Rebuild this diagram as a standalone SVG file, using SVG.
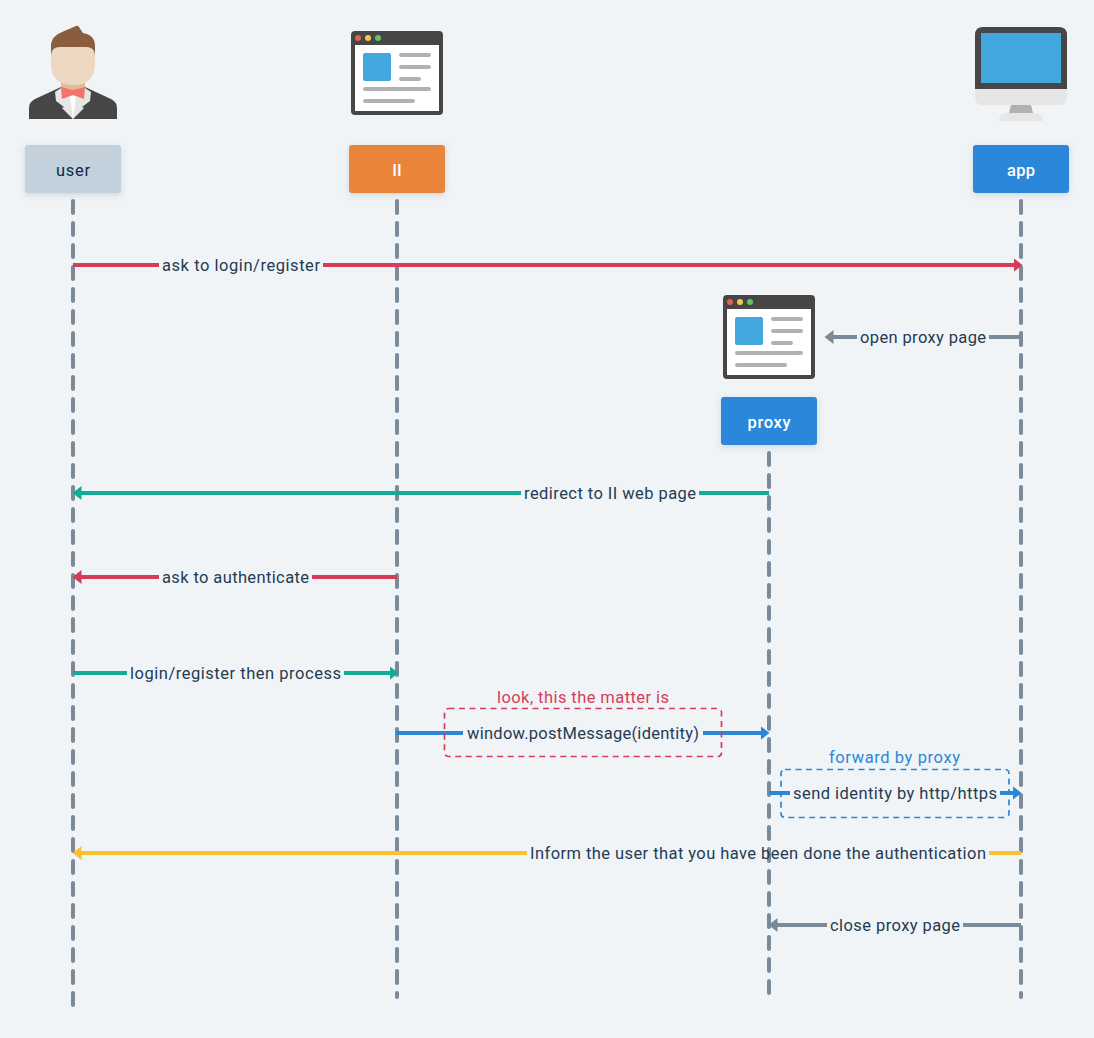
<svg xmlns="http://www.w3.org/2000/svg" width="1094" height="1038" viewBox="0 0 1094 1038">
<style>
text{font-family:"Roboto","Noto Sans","Liberation Sans",sans-serif;font-size:16.5px;font-weight:400}
.lbl{fill:#243b53}
.nt{text-anchor:middle;fill:#fff;font-weight:500}
.life{fill:none;stroke:#7a8a99;stroke-width:4;stroke-linecap:round;stroke-dasharray:12 10}
.msg{fill:none;stroke-width:4}
.red{stroke:#d63c58}.teal{stroke:#14ab96}.blue{stroke:#2a87d9}.yel{stroke:#fbc02d}.gray{stroke:#7a8a99}
.box{fill:none;stroke-width:1.700;stroke-dasharray:6 4.500}
.dk{fill:#464646}.lg{fill:#b1b1b1}.sc{fill:#41a7de}
</style>
<defs>
<filter id="sh" x="-20%" y="-30%" width="140%" height="170%"><feDropShadow dx="0" dy="2" stdDeviation="3" flood-color="#52606d" flood-opacity="0.2"/></filter>
<marker id="mred" markerUnits="userSpaceOnUse" markerWidth="12" markerHeight="16" viewBox="0 -8 12 16" refX="0.500" refY="0" orient="auto"><path d="M0-7 9 0 0 7z" fill="#d63c58"/></marker>
<marker id="mteal" markerUnits="userSpaceOnUse" markerWidth="12" markerHeight="16" viewBox="0 -8 12 16" refX="0.500" refY="0" orient="auto"><path d="M0-7 9 0 0 7z" fill="#14ab96"/></marker>
<marker id="mblue" markerUnits="userSpaceOnUse" markerWidth="12" markerHeight="16" viewBox="0 -8 12 16" refX="0.500" refY="0" orient="auto"><path d="M0-7 9 0 0 7z" fill="#2a87d9"/></marker>
<marker id="myel" markerUnits="userSpaceOnUse" markerWidth="12" markerHeight="16" viewBox="0 -8 12 16" refX="0.500" refY="0" orient="auto"><path d="M0-7 9 0 0 7z" fill="#fbc02d"/></marker>
<marker id="mgray" markerUnits="userSpaceOnUse" markerWidth="12" markerHeight="16" viewBox="0 -8 12 16" refX="0.500" refY="0" orient="auto"><path d="M0-7 9 0 0 7z" fill="#7a8a99"/></marker>
<g id="browser">
<rect x="351" y="31" width="92" height="84" rx="4" class="dk"/>
<rect x="355" y="45" width="84" height="66" fill="#fff"/>
<circle cx="358" cy="38" r="3" fill="#ea5f52"/><circle cx="368" cy="38" r="3" fill="#f2cb46"/><circle cx="378" cy="38" r="3" fill="#63c466"/>
<rect x="363" y="53" width="28" height="28" rx="2" class="sc"/>
<rect x="399" y="53" width="32" height="4" rx="2" class="lg"/><rect x="399" y="65" width="32" height="4" rx="2" class="lg"/><rect x="399" y="77" width="22" height="4" rx="2" class="lg"/>
<rect x="363" y="87" width="68" height="4" rx="2" class="lg"/><rect x="363" y="99" width="52" height="4" rx="2" class="lg"/>
</g>
</defs>
<rect width="1094" height="1038" fill="#f0f4f7"/>
<g id="lifelines">
<path class="life" d="M73 201V1005"/>
<path class="life" d="M397 201V997"/>
<path class="life" d="M769 453V993"/>
<path class="life" d="M1021 201V997"/>
</g>
<g id="node-user">
<path d="M61 78H85V92H61z" fill="#e0bd96"/>
<path d="M29 119V108Q29 102 35 99L61 87 73 119 85 87 111 99Q117 102 117 108V119z" class="dk"/>
<path d="M61 88 55 92 56 101 64 107 62 108 73 119 84 108 82 107 90 101 91 92 85 88 73 96z" fill="#e6e6e6"/>
<path d="M70 96H76L73 119z" fill="#fff"/>
<path d="M61 87 73 90 85 87 84 99 73 95 62 99z" fill="#f4736a"/>
<path d="M51 55V44Q52 36 62 32L76 26Q78 25 79 27L83 33Q95 35 95 46V56L73 60z" fill="#8a5e3c"/>
<path d="M51 56Q51 47 60 47H86Q95 47 95 56V63Q95 85 73 85 51 85 51 63z" fill="#ecd8c2"/>
<rect x="25" y="145" width="96" height="48" rx="3" fill="#c3d1dc" filter="url(#sh)"/>
<text x="73" y="176" text-anchor="middle" fill="#102a43" textLength="34" lengthAdjust="spacing">user</text>
</g>
<g id="node-ii">
<use href="#browser"/>
<rect x="349" y="145" width="96" height="48" rx="3" fill="#e98438" filter="url(#sh)"/>
<text x="397" y="176" class="nt">II</text>
</g>
<g id="node-proxy">
<use href="#browser" x="372" y="264"/>
<rect x="721" y="397" width="96" height="48" rx="3" fill="#2a87d9" filter="url(#sh)"/>
<text x="769" y="428" class="nt" textLength="43" lengthAdjust="spacing">proxy</text>
</g>
<g id="node-app">
<path d="M975 89V35Q975 27 983 27H1059Q1067 27 1067 35V89z" class="dk"/>
<path d="M975 89H1067V97Q1067 105 1059 105H983Q975 105 975 97z" fill="#e6e6e6"/>
<rect x="981" y="33" width="80" height="50" class="sc"/>
<path d="M1011 105H1031L1033 113H1009z" class="lg"/>
<path d="M999 121Q999 113 1007 113H1035Q1043 113 1043 121z" fill="#e6e6e6"/>
<rect x="973" y="145" width="96" height="48" rx="3" fill="#2a87d9" filter="url(#sh)"/>
<text x="1021" y="176" class="nt" textLength="28" lengthAdjust="spacing">app</text>
</g>
<g id="connectors">
<path class="msg red" d="M73 265H159"/><path class="msg red" d="M323 265H1014" marker-end="url(#mred)"/>
<path class="msg gray" d="M1021 337H989"/><path class="msg gray" d="M857 337H833" marker-end="url(#mgray)"/>
<path class="msg teal" d="M769 493H699"/><path class="msg teal" d="M521 493H81" marker-end="url(#mteal)"/>
<path class="msg red" d="M397 577H312"/><path class="msg red" d="M159 577H81" marker-end="url(#mred)"/>
<path class="msg teal" d="M73 673H127"/><path class="msg teal" d="M344 673H390" marker-end="url(#mteal)"/>
<path class="msg blue" d="M396 733H463"/><path class="msg blue" d="M703 733H761" marker-end="url(#mblue)"/>
<path class="msg blue" d="M769 793H790"/><path class="msg blue" d="M1000 793H1013" marker-end="url(#mblue)"/>
<path class="msg yel" d="M1021 853H989"/><path class="msg yel" d="M527 853H81" marker-end="url(#myel)"/>
<path class="msg gray" d="M1021 925H963"/><path class="msg gray" d="M827 925H777" marker-end="url(#mgray)"/>
</g>
<g id="notes">
<rect class="box red" x="444.500" y="708.500" width="277" height="48" rx="4"/>
<rect class="box blue" x="781" y="769.500" width="228" height="48" rx="4"/>
<text x="497" y="703" fill="#d63c58" textLength="172" lengthAdjust="spacing">look, this the matter is</text>
<text x="829" y="763" fill="#2a87d9" textLength="131" lengthAdjust="spacing">forward by proxy</text>
</g>
<g id="labels">
<text class="lbl" x="162" y="270.500" textLength="158" lengthAdjust="spacing">ask to login/register</text>
<text class="lbl" x="860" y="342.500" textLength="126" lengthAdjust="spacing">open proxy page</text>
<text class="lbl" x="524" y="498.500" textLength="172" lengthAdjust="spacing">redirect to II web page</text>
<text class="lbl" x="162" y="582.500" textLength="147" lengthAdjust="spacing">ask to authenticate</text>
<text class="lbl" x="130" y="678.500" textLength="211" lengthAdjust="spacing">login/register then process</text>
<text class="lbl" x="467" y="738.500" textLength="232" lengthAdjust="spacing">window.postMessage(identity)</text>
<text class="lbl" x="793" y="798.500" textLength="204" lengthAdjust="spacing">send identity by http/https</text>
<text class="lbl" x="530" y="858.500" textLength="456" lengthAdjust="spacing">Inform the user that you have been done the authentication</text>
<text class="lbl" x="830" y="930.500" textLength="130" lengthAdjust="spacing">close proxy page</text>
</g>
</svg>
